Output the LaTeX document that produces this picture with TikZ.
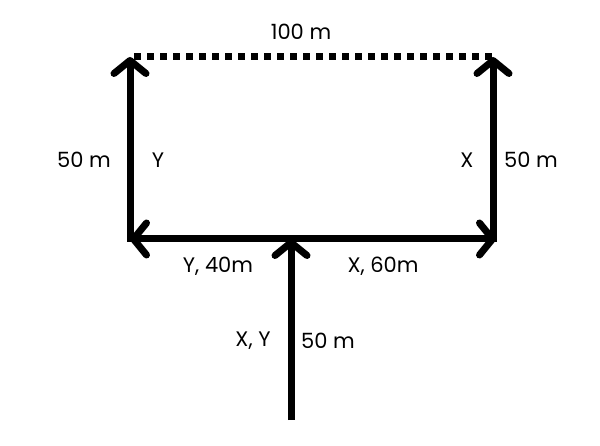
\documentclass[tikz,border=0pt]{standalone}
\usepackage{fontspec}
\setmainfont{Poppins}
\usetikzlibrary{arrows.meta}
\begin{document}
\begin{tikzpicture}[x=1pt,y=-1pt,
  lbl/.style={font=\fontsize{21}{24}\selectfont, inner sep=0pt},
  vec/.style={line width=7pt, -{Straight Barb[length=13pt,width=32pt,line cap=round,round]}},
  dots/.style={line width=7pt, dash pattern=on 7pt off 6pt}]
\useasboundingbox (0,0) rectangle (600,446);
\coordinate (base) at (291,420);
\coordinate (mid) at (291,239);
\coordinate (L) at (130,239);
\coordinate (R) at (496,239);
\coordinate (LB) at (130,242);
\coordinate (RB) at (493,242);
\coordinate (LT) at (130,57);
\coordinate (RT) at (493,57);
\coordinate (DL) at (134,57);
\coordinate (DR) at (493,57);
\draw[vec] (base) -- (mid);
\draw[line width=7pt] (L) -- (R);
\draw[vec] (mid) -- (L);
\draw[vec] (mid) -- (R);
\draw[vec] (LB) -- (LT);
\draw[vec] (RB) -- (RT);
\draw[dots] (DL) -- (DR);
\node[lbl] (t100) at (301,32) {100 m};
\node[lbl] (t50l) at (84,160) {50 m};
\node[lbl] (ty) at (158,160) {Y};
\node[lbl] (tx) at (467,160) {X};
\node[lbl] (t50r) at (531,160) {50 m};
\node[lbl] (ty40) at (218,266) {Y, 40m};
\node[lbl] (tx60) at (383,266) {X, 60m};
\node[lbl] (txy) at (253,341) {X, Y};
\node[lbl] (t50b) at (328,341) {50 m};
\end{tikzpicture}
\end{document}
